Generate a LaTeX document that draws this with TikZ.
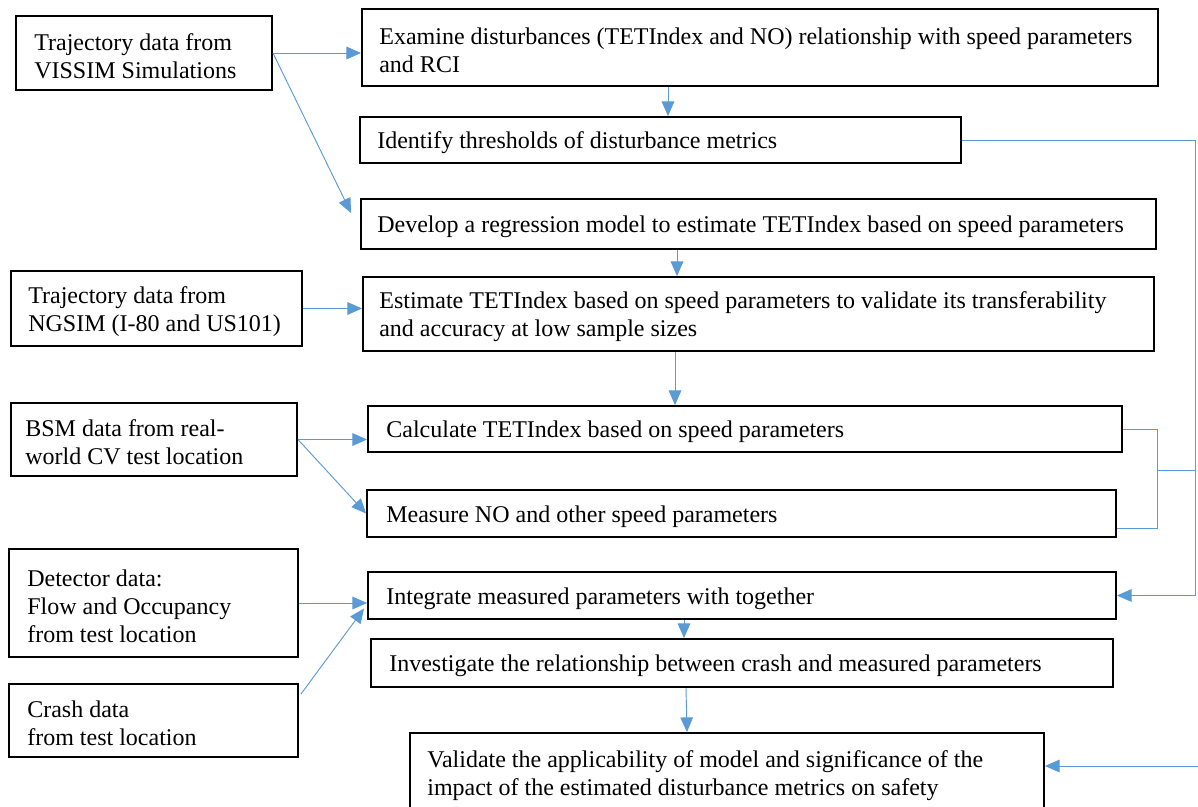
\documentclass[tikz,border=0pt]{standalone}
\usepackage{fontspec}
\setmainfont{Liberation Serif}
\usetikzlibrary{arrows.meta,calc,fit}
\definecolor{linkblue}{HTML}{5B9BD5}

% #1 name, #2-#5 corners (x1,y1,x2,y2), #6 left padding, #7 text
\newcommand\flowbox[7]{%
  \node[box, fit={(#2,#3) (#4,#5)}] (#1) {};
  \node[txt, anchor=west] (#1-text) at ($(#1.west)+(#6,3)$) {#7};%
}

\begin{document}
\begin{tikzpicture}[x=0.75pt,y=-0.75pt,
  box/.style={draw=black, line width=1.4pt, inner sep=0pt, rectangle},
  txt/.style={align=left, inner sep=0pt, font=\rmfamily\fontsize{18}{21}\selectfont},
  link/.style={draw=linkblue, line width=0.7pt},
  arr/.style={link, -{Triangle[length=11pt,width=9.5pt]}}]
\fill[white] (0,0) rectangle (1198,806);
\useasboundingbox (0,0) rectangle (1198,806);

% data sources
\flowbox{vissim}{16}{16}{272}{90}{19}{Trajectory data from\\VISSIM Simulations}
\flowbox{ngsim}{11}{271}{302}{346}{18}{Trajectory data from\\NGSIM (I-80 and US101)}
\flowbox{bsm}{11}{403}{297}{476}{15}{BSM data from real-\\world CV test location}
\flowbox{detector}{9}{549}{298}{657}{19}{Detector data:\\Flow and Occupancy\\from test location}
\flowbox{crash}{9}{684}{298}{757}{19}{Crash data\\from test location}

% analysis steps
\flowbox{examine}{362}{9}{1158}{86}{18}{Examine disturbances (TETIndex and NO) relationship with speed parameters\\and RCI}
\flowbox{identify}{360}{117}{961}{163}{18}{Identify thresholds of disturbance metrics}
\flowbox{develop}{361}{199}{1156}{249}{17}{Develop a regression model to estimate TETIndex based on speed parameters}
\flowbox{estimate}{363}{277}{1154}{351}{17}{Estimate TETIndex based on speed parameters to validate its transferability\\and accuracy at low sample sizes}
\flowbox{calculate}{368}{406}{1122}{452}{19}{Calculate TETIndex based on speed parameters}
\flowbox{measure}{367}{490}{1116}{537}{20}{Measure NO and other speed parameters}
\flowbox{integrate}{368}{572}{1116}{619}{19}{Integrate measured parameters with together}
\flowbox{investigate}{371}{639}{1113}{687}{19}{Investigate the relationship between crash and measured parameters}
\flowbox{validate}{410}{733}{1044}{812}{18}{Validate the applicability of model and significance of the\\impact of the estimated disturbance metrics on safety}

% free ends and junctions
\coordinate (join) at (1157,470);
\coordinate (trunk) at (1195,470);
\coordinate (feed) at (1198,766);
\coordinate (mlow) at ($(measure.south east)+(0,-9)$);

% source inputs
\draw[arr] (vissim.east) -- (vissim.east -| examine.west);
\draw[arr] (vissim.east) -- ($(develop.north west)+(-9,15)$);
\draw[arr] (ngsim.east) -- (ngsim.east -| estimate.west);
\draw[arr] (bsm.east) -- (bsm.east -| calculate.west);
\draw[arr] (bsm.east) -- (measure.west);
\draw[arr] (detector.east) -- (detector.east -| integrate.west);
\draw[arr] ($(crash.north east)+(2,11)$) -- ($(integrate.west)+(-3,13)$);

% main sequence
\draw[arr] (668,0 |- examine.south) -- (668,0 |- identify.north);
\draw[arr] (677,0 |- develop.south) -- (677,0 |- estimate.north);
\draw[arr] (675,0 |- estimate.south) -- (675,0 |- calculate.north);
\draw[arr] (684,0 |- integrate.south) -- (684,0 |- investigate.north);
\draw[arr] (686,0 |- investigate.south) -- (687,0 |- validate.north);

% right-hand feedback lines
\draw[arr] (identify.east) -- (1195,0 |- identify.east) -- (1195,0 |- integrate.east) -- (integrate.east);
\draw[link] (calculate.east) -- (1157,0 |- calculate.east) -- (1157,0 |- mlow) -- (mlow);
\draw[link] (join) -- (trunk);
\draw[arr] (feed) -- (feed -| validate.east);
\end{tikzpicture}
\end{document}
